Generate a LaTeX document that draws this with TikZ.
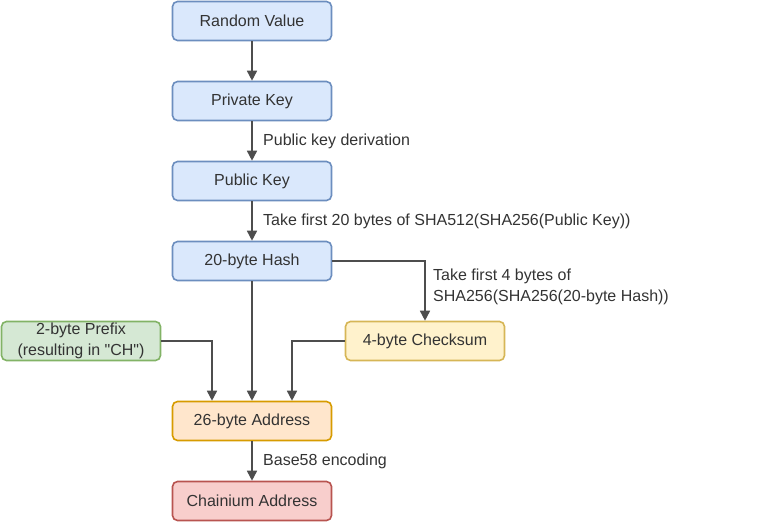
\documentclass[tikz,border=0pt]{standalone}
\usepackage{fontspec}
\setmainfont{Liberation Sans}
\usepackage{tikz}
\usetikzlibrary{arrows.meta}

\definecolor{bluefill}{HTML}{DAE8FC}\definecolor{blueline}{HTML}{6C8EBF}
\definecolor{greenfill}{HTML}{D5E8D4}\definecolor{greenline}{HTML}{82B366}
\definecolor{yellowfill}{HTML}{FFF2CC}\definecolor{yellowline}{HTML}{D6B656}
\definecolor{orangefill}{HTML}{FFE6CC}\definecolor{orangeline}{HTML}{D79B00}
\definecolor{redfill}{HTML}{F8CECC}\definecolor{redline}{HTML}{B85450}
\definecolor{txt}{HTML}{333333}
\definecolor{wire}{HTML}{4D4D4D}

\begin{document}
\begin{tikzpicture}[x=1pt,y=-1pt,
    font=\fontsize{16}{20.5}\selectfont,text=txt,
    box/.style={draw,rounded corners=5pt,line width=1.6pt,minimum width=159pt,minimum height=39pt,align=center,inner sep=0pt},
    bluebox/.style={box,fill=bluefill,draw=blueline},
    flow/.style={draw=wire,line width=1.6pt,-{Triangle[width=10pt,length=10pt]}},
    lbl/.style={anchor=west,align=left,inner sep=0pt}]
  \useasboundingbox (0,0) rectangle (782,522);
  % main column
  \node[bluebox] (random) at (252,21) {Random Value};
  \node[bluebox] (private) at (252,101) {Private Key};
  \node[bluebox] (public) at (252,181) {Public Key};
  \node[bluebox] (hash) at (252,261) {20-byte Hash};
  \node[box,fill=greenfill,draw=greenline] (prefix) at (81,341) {2-byte Prefix\\(resulting in \textquotedbl CH\textquotedbl)};
  \node[box,fill=yellowfill,draw=yellowline] (checksum) at (425,341) {4-byte Checksum};
  \node[box,fill=orangefill,draw=orangeline] (address) at (252,421) {26-byte Address};
  \node[box,fill=redfill,draw=redline] (chainium) at (252,501) {Chainium Address};
  % connectors
  \draw[flow] (random) -- (private);
  \draw[flow] (private) -- (public);
  \draw[flow] (public) -- (hash);
  \draw[flow] (hash) -- (address);
  \draw[flow] (hash.east) -| (checksum.north);
  \draw[flow] (prefix.east) -| ([xshift=-40pt]address.north);
  \draw[flow] (checksum.west) -| ([xshift=40pt]address.north);
  \draw[flow] (address) -- (chainium);
  % labels
  \node[lbl] (derive) at (263,141) {Public key derivation};
  \node[lbl] (sha512) at (263,221) {Take first 20 bytes of SHA512(SHA256(Public Key))};
  \node[lbl] (sha256) at (433,287) {Take first 4 bytes of\\SHA256(SHA256(20-byte Hash))};
  \node[lbl] (base58) at (263,461) {Base58 encoding};
\end{tikzpicture}
\end{document}
